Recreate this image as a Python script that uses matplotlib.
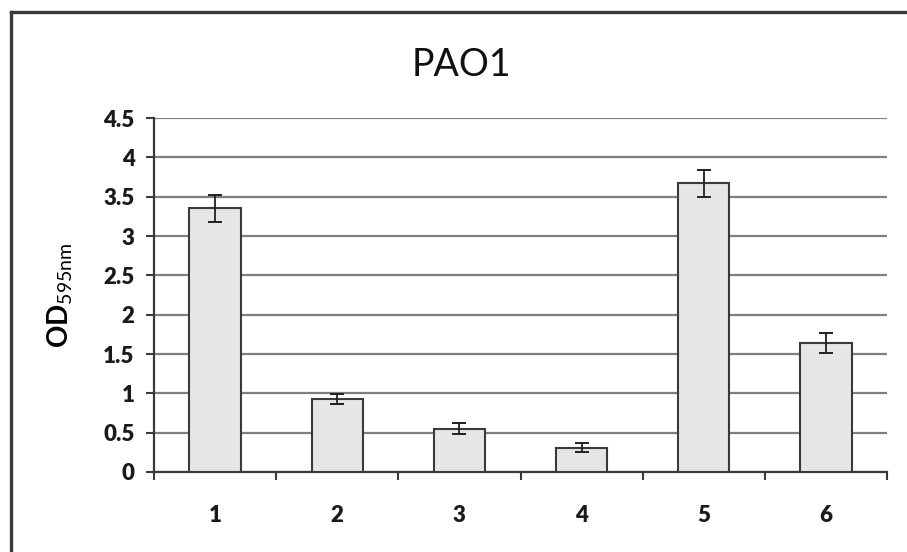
import matplotlib
matplotlib.use("Agg")
import matplotlib.pyplot as plt
from matplotlib.lines import Line2D
import numpy as np

categories = ["1", "2", "3", "4", "5", "6"]
values = [3.35, 0.93, 0.55, 0.31, 3.67, 1.64]
errors = [0.17, 0.06, 0.07, 0.06, 0.17, 0.13]
yticks = [0, 0.5, 1, 1.5, 2, 2.5, 3, 3.5, 4, 4.5]
ytick_labels = ["0", "0.5", "1", "1.5", "2", "2.5", "3", "3.5", "4", "4.5"]

plt.rcParams['font.family'] = ['Lato', 'DejaVu Sans']
plt.rcParams['mathtext.fontset'] = 'custom'
plt.rcParams['mathtext.rm'] = 'Lato'
plt.rcParams['mathtext.bf'] = 'Lato:bold'

W, H = 907, 552
fig = plt.figure(figsize=(W / 100, H / 100), dpi=100)
ax = fig.add_axes([154 / W, 1 - 472 / H, (887 - 154) / W, (472 - 118) / H])

x = np.arange(len(categories))
edge = '#3a3a3a'
ax.set_axisbelow(True)
ax.bar(x, values, width=0.42, color='#e6e6e6', edgecolor=edge, linewidth=1.5,
       yerr=errors, error_kw=dict(ecolor='#202020', elinewidth=1.3, capsize=5, capthick=1.4),
       zorder=3)

ax.set_xlim(-0.5, len(categories) - 0.5)
ax.set_ylim(0, 4.5)
ax.set_yticks(yticks)
ax.set_yticklabels(ytick_labels, fontsize=16, fontweight='heavy', color='#1a1a1a')
ax.yaxis.grid(True, color='#7f7f7f', linewidth=1.6)
ax.xaxis.grid(False)

# x ticks at category boundaries, labels at centers
ax.set_xticks(np.arange(-0.5, len(categories) + 0.5, 1.0))
ax.set_xticklabels([])
ax.set_xticks(x, minor=True)
ax.set_xticklabels(categories, minor=True, fontsize=16, fontweight='heavy', color='#1a1a1a')
ax.tick_params(axis='x', which='minor', length=0, pad=24)
ax.tick_params(axis='x', which='major', length=6, width=1.5, color=edge, direction='out')
ax.tick_params(axis='y', length=6, width=1.5, color=edge, direction='out', pad=8)

for s in ['top', 'right']:
    ax.spines[s].set_visible(False)
ax.spines['left'].set_color(edge)
ax.spines['left'].set_linewidth(1.6)
ax.spines['bottom'].set_color(edge)
ax.spines['bottom'].set_linewidth(1.6)

ax.set_ylabel(r'$\mathbf{OD}_{\mathregular{595nm}}$', fontsize=20, labelpad=6)
ax.yaxis.set_label_coords(-0.108, 0.5)

fig.text(461 / W, 1 - 65 / H, 'PAO1', fontsize=27, ha='center', va='center', color='#111111')

# outer chart border (left and top edges visible)
fig.add_artist(Line2D([11 / W, 11 / W], [0, 1 - 11.5 / H], transform=fig.transFigure,
                      color='#3a3a3a', linewidth=2.4))
fig.add_artist(Line2D([11 / W, 1], [1 - 11.5 / H, 1 - 11.5 / H], transform=fig.transFigure,
                      color='#3a3a3a', linewidth=2.4))

fig.savefig('out.png', dpi=100, facecolor='white')
